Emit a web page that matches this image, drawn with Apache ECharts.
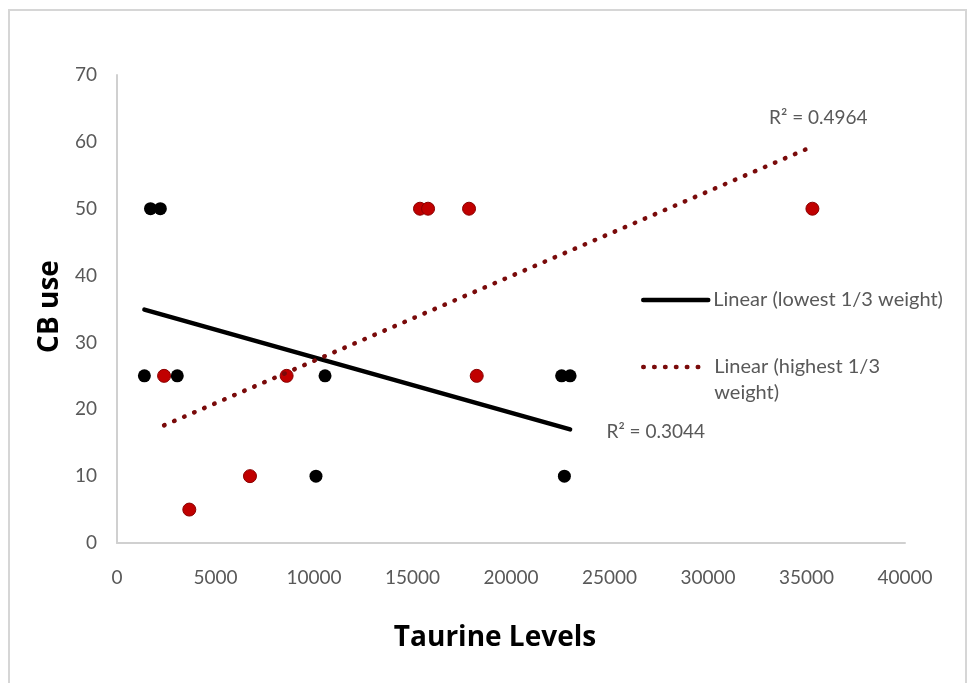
<!DOCTYPE html>
<html>
<head>
<meta charset="utf-8">
<script src="https://cdn.jsdelivr.net/npm/echarts@6/dist/echarts.min.js"></script>
<style>
  html, body { margin: 0; padding: 0; background: #ffffff; }
  #chart { width: 970px; height: 683px; }
</style>
</head>
<body>
<div id="chart"></div>
<script>
// ---- data ----
const lowX  = [1700, 2200, 1390, 3060, 10560, 22570, 23000, 10100, 22710];
const lowY  = [50, 50, 25, 25, 25, 25, 25, 10, 10];
const highX = [15380, 15790, 17870, 35300, 2390, 8610, 18260, 6750, 3670];
const highY = [50, 50, 50, 50, 25, 25, 25, 10, 5];

const lowTrendX  = [1390, 23000];
const lowTrendY  = [34.9, 17.0];
const highTrendX = [2390, 35300];
const highTrendY = [17.6, 59.3];

const lowName  = 'Linear (lowest 1/3 weight)';
const highName = 'Linear (highest 1/3 weight)';
const lowR2  = 'R\u00B2 = 0.3044';
const highR2 = 'R\u00B2 = 0.4964';
const lowR2Pos  = [27350, 16.6];
const highR2Pos = [35600, 63.6];

const xTicks = [0, 5000, 10000, 15000, 20000, 25000, 30000, 35000, 40000];
const yTicks = [0, 10, 20, 30, 40, 50, 60, 70];

const zip = (xs, ys) => xs.map((x, i) => [x, ys[i]]);

const FONT = 'Lato';
const TITLE_FONT = 'Open Sans';
const GREY = '#595959';
const RED_PT = '#c00000';
const RED_LINE = '#7a0a0a';

const chart = echarts.init(document.getElementById('chart'), null, { renderer: 'canvas' });

chart.setOption({
  backgroundColor: '#ffffff',
  animation: false,
  textStyle: { fontFamily: FONT },
  graphic: [{
    type: 'rect',
    silent: true,
    shape: { x: 9, y: 10, width: 957, height: 720 },
    style: { fill: 'none', stroke: '#d6d6d6', lineWidth: 2 }
  }],
  grid: { left: 117, top: 75, width: 788, height: 468, containLabel: false },
  xAxis: {
    type: 'value',
    min: xTicks[0], max: xTicks[xTicks.length - 1], interval: 5000,
    name: 'Taurine Levels',
    nameLocation: 'middle',
    nameGap: 81,
    nameTextStyle: { fontFamily: TITLE_FONT, fontWeight: 'bold', fontSize: 28, color: '#000', padding: [0, 32, 0, 0] },
    axisLine: { show: true, lineStyle: { color: '#d0d0d0', width: 2 } },
    axisTick: { show: false },
    splitLine: { show: false },
    axisLabel: { fontFamily: FONT, fontSize: 19, color: GREY, margin: 25, formatter: (v) => String(v) }
  },
  yAxis: {
    type: 'value',
    min: yTicks[0], max: yTicks[yTicks.length - 1], interval: 10,
    name: 'CB use',
    nameLocation: 'middle',
    nameGap: 52,
    nameTextStyle: { fontFamily: TITLE_FONT, fontWeight: 'bold', fontSize: 28, color: '#000', padding: [0, 0, 0, 5] },
    axisLine: { show: true, lineStyle: { color: '#d0d0d0', width: 2 } },
    axisTick: { show: false },
    splitLine: { show: false },
    axisLabel: { fontFamily: FONT, fontSize: 19, color: GREY, margin: 20, formatter: (v) => String(v) }
  },
  legend: [{
    data: [lowName],
    orient: 'vertical',
    left: 636, top: 285,
    itemWidth: 65, itemHeight: 24,
    itemStyle: { opacity: 0 },
    lineStyle: { width: 4.5, color: '#000' },
    textStyle: { fontFamily: FONT, fontSize: 20, color: GREY },
    selectedMode: false
  }, {
    data: [highName],
    orient: 'vertical',
    left: 636, top: 352,
    itemWidth: 60, itemHeight: 24,
    itemStyle: { opacity: 0 },
    lineStyle: { width: 4.5, color: RED_LINE, type: [0.5, 10.4], cap: 'round' },
    formatter: (n) => n === highName ? '{a|Linear (highest 1/3}\n{b|weight)}' : n,
    textStyle: {
      fontFamily: FONT, fontSize: 20, color: GREY, padding: [0, 0, 0, 6],
      rich: {
        a: { fontFamily: FONT, fontSize: 20, color: GREY, lineHeight: 50 },
        b: { fontFamily: FONT, fontSize: 20, color: GREY, lineHeight: 0.1 }
      }
    },
    selectedMode: false
  }],
  series: [
    {
      name: 'lowest 1/3 weight',
      type: 'scatter',
      data: zip(lowX, lowY),
      symbol: 'circle', symbolSize: 13,
      itemStyle: { color: '#000', opacity: 1 },
      z: 3
    },
    {
      name: 'highest 1/3 weight',
      type: 'scatter',
      data: zip(highX, highY),
      symbol: 'circle', symbolSize: 13,
      itemStyle: { color: RED_PT, borderColor: '#8a0000', borderWidth: 1, opacity: 1 },
      z: 3
    },
    {
      name: lowName,
      type: 'line',
      data: zip(lowTrendX, lowTrendY),
      symbol: 'none',
      lineStyle: { color: '#000', width: 4.5, cap: 'round' },
      itemStyle: { color: '#000' },
      z: 4,
      markPoint: {
        symbol: 'circle', symbolSize: 0,
        data: [{ coord: lowR2Pos, value: lowR2 }],
        label: { show: true, position: 'inside', formatter: lowR2, fontFamily: FONT, fontSize: 19, color: GREY }
      }
    },
    {
      name: highName,
      type: 'line',
      data: zip(highTrendX, highTrendY),
      symbol: 'none',
      lineStyle: { color: RED_LINE, width: 4.5, type: [0.5, 10.4], cap: 'round' },
      itemStyle: { color: RED_LINE },
      z: 4,
      markPoint: {
        symbol: 'circle', symbolSize: 0,
        data: [{ coord: highR2Pos, value: highR2 }],
        label: { show: true, position: 'inside', formatter: highR2, fontFamily: FONT, fontSize: 19, color: GREY }
      }
    }
  ]
});
</script>
</body>
</html>
